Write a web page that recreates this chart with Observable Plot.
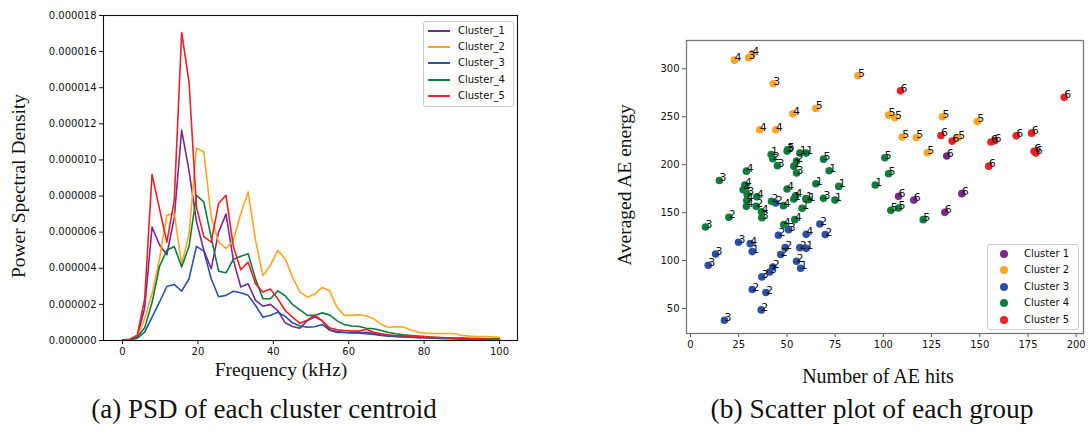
<!DOCTYPE html>
<html>
<head>
<meta charset="utf-8">
<script src="https://cdn.jsdelivr.net/npm/d3@7"></script>
<script src="https://cdn.jsdelivr.net/npm/@observablehq/plot@0.6"></script>
<style>
  body { margin: 0; background: white; }
  #fig { position: relative; width: 1090px; height: 432px; background: white; overflow: hidden; }
  .abs { position: absolute; white-space: nowrap; color: #111; }
  .serif { font-family: "Liberation Serif", "Times New Roman", serif; }
  .sans { font-family: "DejaVu Sans", sans-serif; font-size: 10px; }
  .legend { position: absolute; background: white; border: 1px solid #cccccc; border-radius: 3px; }
  .row { position: absolute; left: 0; height: 16px; line-height: 16px; }
</style>
</head>
<body>
<div id="fig">
  <div id="left" class="abs" style="left:0;top:0"></div>
  <div id="right" class="abs" style="left:540px;top:0"></div>
</div>
<script>
// ---------- Panel (a) data ----------
const freq = [0, 1.96, 3.92, 5.88, 7.84, 9.8, 11.76, 13.73, 15.69, 17.65, 19.61, 21.57, 23.53, 25.49, 27.45, 29.41, 31.37, 33.33, 35.29, 37.25, 39.22, 41.18, 43.14, 45.1, 47.06, 49.02, 50.98, 52.94, 54.9, 56.86, 58.82, 60.78, 62.75, 64.71, 66.67, 68.63, 70.59, 72.55, 74.51, 76.47, 78.43, 80.39, 82.35, 84.31, 86.27, 88.24, 90.2, 92.16, 94.12, 96.08, 98.04, 100];
// values in units of 1e-6
const psd1 = [0.02, 0.05, 0.2, 1.8, 6.28, 5.3, 4.75, 6.8, 11.65, 9.4, 6.6, 5.0, 3.97, 6.0, 7.0, 4.45, 2.96, 3.14, 2.22, 1.9, 2.0, 1.66, 0.98, 0.78, 0.68, 1.1, 1.3, 1.1, 0.58, 0.44, 0.45, 0.44, 0.43, 0.45, 0.38, 0.32, 0.27, 0.23, 0.21, 0.19, 0.17, 0.15, 0.14, 0.13, 0.12, 0.1, 0.09, 0.08, 0.07, 0.06, 0.06, 0.05];
const psd2 = [0.02, 0.05, 0.15, 1.2, 2.6, 4.5, 6.93, 7.06, 4.2, 5.9, 10.67, 10.44, 6.84, 5.45, 5.1, 5.55, 7.02, 8.23, 5.55, 3.6, 4.16, 4.99, 4.53, 3.51, 2.68, 2.4, 2.57, 2.94, 2.76, 1.85, 1.39, 1.39, 1.43, 1.36, 1.2, 0.89, 0.73, 0.76, 0.75, 0.58, 0.46, 0.41, 0.39, 0.39, 0.39, 0.37, 0.28, 0.24, 0.22, 0.22, 0.2, 0.18];
const psd3 = [0.02, 0.05, 0.13, 0.46, 1.3, 2.12, 2.99, 3.1, 2.73, 3.42, 5.21, 4.95, 3.42, 2.42, 2.5, 2.73, 2.64, 2.5, 1.94, 1.29, 1.4, 1.57, 1.34, 0.98, 0.8, 0.74, 0.76, 0.89, 0.58, 0.5, 0.44, 0.42, 0.41, 0.37, 0.33, 0.28, 0.24, 0.22, 0.2, 0.18, 0.16, 0.15, 0.13, 0.12, 0.11, 0.1, 0.09, 0.08, 0.07, 0.06, 0.05, 0.05];
const psd4 = [0.02, 0.05, 0.18, 0.7, 2.1, 4.1, 5.0, 5.21, 4.07, 5.22, 8.04, 7.67, 5.7, 3.84, 3.75, 4.5, 4.66, 4.8, 3.4, 2.31, 2.31, 2.75, 2.48, 2.0, 1.7, 1.39, 1.39, 1.53, 1.42, 1.1, 0.88, 0.8, 0.78, 0.68, 0.65, 0.55, 0.44, 0.37, 0.31, 0.28, 0.24, 0.22, 0.18, 0.17, 0.15, 0.14, 0.13, 0.12, 0.11, 0.1, 0.1, 0.09];
const psd5 = [0.02, 0.07, 0.3, 2.3, 9.2, 7.3, 5.45, 7.76, 17.06, 14.3, 7.4, 5.75, 5.45, 7.6, 8.04, 5.2, 3.92, 4.34, 3.14, 2.68, 2.85, 2.31, 1.66, 1.29, 0.95, 1.12, 1.4, 1.1, 0.7, 0.59, 0.55, 0.52, 0.52, 0.62, 0.46, 0.37, 0.31, 0.28, 0.26, 0.24, 0.22, 0.2, 0.18, 0.16, 0.15, 0.13, 0.12, 0.1, 0.09, 0.08, 0.07, 0.07];
const lineNames = ["Cluster_1", "Cluster_2", "Cluster_3", "Cluster_4", "Cluster_5"];
const colors = ["#7a2a8c", "#ffa520", "#2b50aa", "#0b7d3c", "#ee1f26"];
const psdTicksY = [0, 2e-6, 4e-6, 6e-6, 8e-6, 10e-6, 12e-6, 14e-6, 16e-6, 18e-6];
const psdTicksX = [0, 20, 40, 60, 80, 100];

// ---------- Panel (b) data: [AE hits, averaged AE energy, point tag] ----------
const group1 = [[132.9,209,6],[107.9,167,6],[115.8,163.1,6],[140.7,169.8,6],[131.9,150.3,6]];
const group2 = [[22.8,309,4],[30.1,311.5,3],[32,315.6,4],[42.9,284.4,3],[53.1,253.1,4],[65,258.6,5],[86.8,292.7,5],[35.9,236.4,4],[44.2,236.4,4],[102.7,251.7,5],[106,249,5],[130.7,250,5],[148.7,245.1,5],[109.8,228.8,5],[117.1,228.4,5],[138.8,228.1,5],[122.8,212.5,5]];
const group3 = [[44.2,160,2],[45.6,126.4,2],[50.9,132.3,3],[60,127.4,4],[67.1,138.1,2],[69.9,127.1,2],[24.9,119.1,3],[31,117.7,4],[32,109.4,1],[13,106.9,3],[9.2,95.1,3],[49.1,113.5,2],[46.8,106.3,2],[56.7,113.5,2],[60,112.8,1],[55,99.3,2],[57.1,92,1],[42.7,93.4,2],[41.1,88.2,3],[37,83,3],[32,69.8,2],[39.1,66.7,2],[36.7,48.6,2],[17.6,37.8,3]];
const group4 = [[100.8,207.3,5],[102.7,190.6,5],[95.8,178.8,1],[103.9,152.4,5],[107.9,154.8,5],[120.7,142.7,5],[41.8,210.7,1],[42.7,206.2,2],[45.1,199,3],[50.1,214.2,3],[50.4,215.5,5],[56.7,212.1,1],[60,212.1,1],[55,203.8,2],[53.6,198.5,1],[55,191.3,3],[69,205.8,5],[71.9,193.7,1],[65,180.2,1],[76.9,177.4,1],[15,183.6,3],[29,193.3,4],[28.2,178.8,4],[27.3,173.9,4],[29.4,169.1,3],[29.2,162.8,4],[29,156.6,4],[34.4,166.6,4],[34.1,156.6,2],[36.8,151,4],[37,144.8,3],[19.9,145.1,2],[7.8,135,3],[42,161.8,2],[48.2,157.3,4],[50.1,174.6,4],[53.6,164.2,1],[54.5,167.7,4],[57.9,154.5,1],[59.8,164.6,1],[61.2,163.5,1],[69,164.9,3],[74.9,163.1,1],[48.4,137.5,4],[54.1,142.7,4]];
const group5 = [[108.9,277,6],[193.8,270.4,6],[129.9,230.5,6],[135.7,224.6,6],[155.8,223.6,6],[157.7,225,6],[168.9,230.2,6],[176.9,232.9,6],[178.2,213.9,6],[179.1,212.1,6],[154.7,198.5,6]];
const groupNames = ["Cluster 1", "Cluster 2", "Cluster 3", "Cluster 4", "Cluster 5"];
const scatTicksX = [0, 25, 50, 75, 100, 125, 150, 175, 200];
const scatTicksY = [50, 100, 150, 200, 250, 300];

// ---------- build tables ----------
const psdAll = [psd1, psd2, psd3, psd4, psd5];
const psdRows = [];
psdAll.forEach((s, i) => s.forEach((v, k) => psdRows.push({f: freq[k], v: v * 1e-6, c: lineNames[i]})));

const groups = [group1, group2, group3, group4, group5];
const pts = [];
groups.forEach((g, i) => g.forEach(([x, y, t]) => pts.push({x, y, t: String(t), c: groupNames[i]})));

const fig = document.getElementById("fig");

// ---------- Panel (a) ----------
const left = Plot.plot({
  width: 540, height: 432,
  marginLeft: 103, marginRight: 23, marginTop: 15, marginBottom: 92,
  style: {fontFamily: "DejaVu Sans, sans-serif", fontSize: "10px", color: "#111", background: "transparent"},
  x: {domain: [-5.04, 104.77]},
  y: {domain: [0, 18e-6]},
  color: {domain: lineNames, range: colors},
  marks: [
    Plot.line(psdRows, {x: "f", y: "v", z: "c", stroke: "c", strokeWidth: 1.6}),
    Plot.axisY({ticks: psdTicksY, tickFormat: d3.format(".6f"), tickSize: 4, tickPadding: 3, label: null, stroke: "#111"}),
    Plot.axisX({ticks: psdTicksX, tickSize: 4, tickPadding: 3, label: null, stroke: "#111"}),
    Plot.frame({stroke: "#111", strokeWidth: 1.1})
  ]
});
document.getElementById("left").appendChild(left);

// ---------- Panel (b) ----------
const right = Plot.plot({
  width: 550, height: 432,
  marginLeft: 146, marginRight: 7, marginTop: 40, marginBottom: 99,
  style: {fontFamily: "DejaVu Sans, sans-serif", fontSize: "10px", color: "#111", background: "transparent"},
  x: {domain: [-2.07, 203.8]},
  y: {domain: [24, 329.5]},
  color: {domain: groupNames, range: colors},
  marks: [
    Plot.dot(pts, {x: "x", y: "y", fill: "c", r: 3.8}),
    Plot.text(pts, {x: "x", y: "y", text: "t", textAnchor: "start", lineAnchor: "bottom", dx: 0, dy: 1, fontSize: 11, fill: "#111"}),
    Plot.axisY({ticks: scatTicksY, tickSize: 4, tickPadding: 3, label: null, stroke: "#555"}),
    Plot.axisX({ticks: scatTicksX, tickSize: 4, tickPadding: 3, label: null, stroke: "#555"}),
    Plot.frame({stroke: "#777", strokeWidth: 1.3})
  ]
});
document.getElementById("right").appendChild(right);

// ---------- texts ----------
function addText(txt, cls, x, y, size, rot) {
  const d = document.createElement("div");
  d.className = "abs " + cls;
  d.textContent = txt;
  d.style.left = x + "px";
  d.style.top = y + "px";
  d.style.fontSize = size + "px";
  d.style.transform = "translate(-50%,-50%)" + (rot ? " rotate(" + rot + "deg)" : "");
  fig.appendChild(d);
}
addText("Power Spectral Density", "serif", 19, 186, 19.5, -90);
addText("Frequency (kHz)", "serif", 281, 370, 19.5);
addText("(a) PSD of each cluster centroid", "serif", 264, 409, 27);
addText("Averaged AE energy", "serif", 625, 185, 19.5, -90);
addText("Number of AE hits", "serif", 878, 376, 20);
addText("(b) Scatter plot of each group", "serif", 872, 409, 27.5);

// ---------- legends ----------
function legend(x, y, w, h, names, kind, rowY0, rowStep, swX, txtX) {
  const box = document.createElement("div");
  box.className = "legend";
  box.style.left = x + "px"; box.style.top = y + "px";
  box.style.width = w + "px"; box.style.height = h + "px";
  names.forEach((n, i) => {
    const r = document.createElement("div");
    r.className = "row sans";
    r.style.top = (rowY0 + i * rowStep - 8) + "px";
    r.style.width = w + "px";
    const sw = document.createElement("div");
    sw.style.position = "absolute";
    if (kind === "line") {
      sw.style.left = swX + "px"; sw.style.top = "7px"; sw.style.width = "22px"; sw.style.height = "2px";
      sw.style.background = colors[i];
    } else {
      sw.style.left = (swX - 4) + "px"; sw.style.top = "4px"; sw.style.width = "8px"; sw.style.height = "8px";
      sw.style.borderRadius = "50%"; sw.style.background = colors[i];
    }
    const t = document.createElement("div");
    t.style.position = "absolute"; t.style.left = txtX + "px"; t.style.top = "0px";
    t.textContent = n; t.style.color = "#111";
    r.appendChild(sw); r.appendChild(t);
    box.appendChild(r);
  });
  fig.appendChild(box);
}
legend(423, 21, 89, 84, lineNames, "line", 9, 16.2, 4, 34);
legend(987, 244, 90, 84, groupNames, "dot", 9, 16.4, 16, 36);
</script>
</body>
</html>
